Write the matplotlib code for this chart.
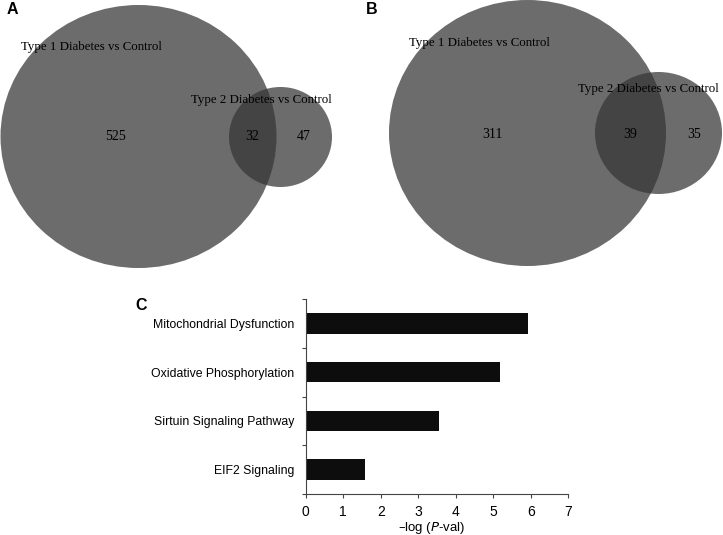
import matplotlib.pyplot as plt
from matplotlib.patches import Ellipse

# Venn counts: (only T1, both, only T2)
venn_a = [525, 32, 47]
venn_b = [311, 39, 35]
set_labels = ["Type 1 Diabetes vs Control", "Type 2 Diabetes vs Control"]

# Pathway enrichment
pathways = ["Mitochondrial Dysfunction", "Oxidative Phosphorylation",
            "Sirtuin Signaling Pathway", "EIF2 Signaling"]
neg_log_p = [5.92, 5.19, 3.55, 1.58]

W, H = 723, 535
fig = plt.figure(figsize=(W / 100, H / 100), dpi=100)

serif = "Liberation Serif"
sans = "Liberation Sans"
circle_col = "#6c6c6c"
overlap_col = "#444444"


def draw_venn(ax, counts, big, small, lab1, lab2, num_pos):
    # big / small: (cx, cy, w, h) in pixel coords of the panel
    e1 = Ellipse(big[:2], big[2], big[3], color=circle_col, lw=0)
    e2 = Ellipse(small[:2], small[2], small[3], color=circle_col, lw=0)
    ax.add_patch(e1)
    ax.add_patch(e2)
    ov = Ellipse(small[:2], small[2], small[3], color=overlap_col, lw=0)
    ax.add_patch(ov)
    ov.set_clip_path(e1)
    ax.text(lab1[0], lab1[1], set_labels[0], family=serif, fontsize=9.3,
            ha="left", va="center")
    ax.text(lab2[0], lab2[1], set_labels[1], family=serif, fontsize=9.3,
            ha="left", va="center")
    for (x, y), n in zip(num_pos, counts):
        ax.text(x, y, str(n), family=serif, fontsize=10, ha="center", va="center")


# Panel A
ax_a = fig.add_axes([0, 1 - 275 / H, 360 / W, 275 / H])
ax_a.set_xlim(0, 360)
ax_a.set_ylim(275, 0)
ax_a.axis("off")
draw_venn(ax_a, venn_a, (138.5, 136.5, 276, 263), (280.5, 137, 103, 100),
          (21, 47), (191, 100), [(115, 137), (252, 137), (304, 137)])

# Panel B
ax_b = fig.add_axes([360 / W, 1 - 275 / H, 363 / W, 275 / H])
ax_b.set_xlim(0, 363)
ax_b.set_ylim(275, 0)
ax_b.axis("off")
draw_venn(ax_b, venn_b, (167.5, 133, 277, 266), (298.5, 133, 127, 122),
          (49, 43), (218, 89), [(132, 135), (270, 135), (334, 135)])

# Panel labels
fig.text(12 / W, 1 - 10 / H, "A", family=sans, fontsize=11.5, fontweight="bold",
         ha="center", va="center")
fig.text(372 / W, 1 - 10 / H, "B", family=sans, fontsize=11.5, fontweight="bold",
         ha="center", va="center")
fig.text(141 / W, 1 - 305 / H, "C", family=sans, fontsize=11.5, fontweight="bold",
         ha="center", va="center")

# Panel C: bar chart
ax_c = fig.add_axes([305.7 / W, 1 - 494 / H, 262.6 / W, 195 / H])
ypos = list(range(len(pathways)))[::-1]
ax_c.barh(ypos, neg_log_p, height=0.42, color="#0d0d0d")
ax_c.set_xlim(0, 7)
ax_c.set_ylim(-0.5, len(pathways) - 0.5)
ax_c.set_xticks(range(0, 8))
ax_c.set_yticks(ypos)
ax_c.set_yticklabels(pathways, family=sans, fontsize=8.8)
ax_c.set_yticks([i - 0.5 for i in range(len(pathways) + 1)], minor=True)
ax_c.tick_params(axis="y", which="major", length=0, pad=8)
ax_c.tick_params(axis="y", which="minor", length=3, width=0.8, color="#444444")
ax_c.tick_params(axis="x", length=3, width=0.8, color="#444444", labelsize=10, pad=5)
for lab in ax_c.get_xticklabels():
    lab.set_family(sans)
ax_c.set_xlabel("\u2013log ($\\it{P}$-val)", family=sans, fontsize=9.5, labelpad=3)
ax_c.xaxis.set_label_coords(0.48, -0.135)
for s in ["top", "right"]:
    ax_c.spines[s].set_visible(False)
for s in ["left", "bottom"]:
    ax_c.spines[s].set_color("#444444")
    ax_c.spines[s].set_linewidth(0.8)

fig.savefig("out.png", dpi=100)
